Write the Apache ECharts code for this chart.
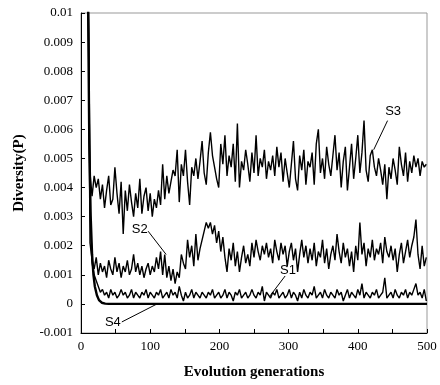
<!DOCTYPE html>
<html>
<head>
<meta charset="utf-8">
<script src="https://cdn.jsdelivr.net/npm/echarts@6/dist/echarts.min.js"></script>
<style>html,body{margin:0;padding:0;background:#fff}#c{width:440px;height:385px}</style>
</head>
<body>
<div id="c"></div>
<script>
// Generations sampled for S1, S2, S3 (every 3rd generation)
var gens = [];
for (var g = 1; g <= 499; g += 3) gens.push(g);

var s3 = [
0.05,0.03,0.02,0.012,0.0045,0.0037,0.0044,0.0040,0.0043,0.0036,
0.0041,0.0033,0.0039,0.0044,0.0034,0.0036,0.0047,0.0038,0.0031,0.0042,
0.0024,0.0039,0.0032,0.0041,0.0035,0.0030,0.0038,0.0033,0.0043,0.0031,
0.0037,0.0040,0.0032,0.0038,0.0030,0.0036,0.0033,0.0039,0.0034,0.0048,
0.0036,0.0044,0.0038,0.0042,0.0046,0.0044,0.0053,0.0035,0.0048,0.0044,
0.0053,0.0042,0.0034,0.0047,0.0044,0.0050,0.0043,0.0049,0.0056,0.0045,
0.0041,0.0052,0.0059,0.0051,0.0047,0.0043,0.0040,0.0055,0.0048,0.0058,
0.0044,0.0051,0.0047,0.0055,0.0042,0.0062,0.0040,0.0049,0.0046,0.0053,
0.0048,0.0042,0.0052,0.0045,0.0058,0.0044,0.0050,0.0047,0.0053,0.0043,
0.0049,0.0046,0.0051,0.0044,0.0054,0.0047,0.0052,0.0042,0.0050,0.0045,
0.0040,0.0048,0.0056,0.0043,0.0039,0.0051,0.0046,0.0053,0.0041,0.0049,
0.0047,0.0052,0.0041,0.0055,0.0060,0.0045,0.0050,0.0043,0.0054,0.0048,
0.0044,0.0051,0.0058,0.0046,0.0052,0.0040,0.0049,0.0054,0.0039,0.0047,
0.0055,0.0043,0.0050,0.0058,0.0045,0.0052,0.0063,0.0046,0.0042,0.0051,
0.0053,0.0047,0.0044,0.0050,0.0046,0.0041,0.0048,0.0036,0.0047,0.0043,
0.0050,0.0046,0.0041,0.0054,0.0048,0.0044,0.0052,0.0042,0.0049,0.0045,
0.0051,0.0047,0.0050,0.0044,0.0049,0.0047,0.0048
];

var s2 = [
0.05,0.03,0.02,0.012,0.0021,0.0015,0.0012,0.0016,0.0010,0.0014,
0.0011,0.0013,0.0009,0.0015,0.0012,0.0010,0.0016,0.0011,0.0014,0.0009,
0.0013,0.0011,0.0015,0.0010,0.0012,0.0017,0.0011,0.0014,0.0010,0.0013,
0.0009,0.0012,0.0014,0.0010,0.0013,0.0011,0.0016,0.0012,0.0018,0.0010,
0.0017,0.0009,0.0013,0.0008,0.0012,0.0007,0.0011,0.0009,0.0017,0.0014,
0.0012,0.0022,0.0016,0.0020,0.0013,0.0024,0.0015,0.0019,0.0022,0.0025,
0.0028,0.0026,0.0028,0.0024,0.0027,0.0021,0.0025,0.0018,0.0023,0.0016,
0.0011,0.0019,0.0015,0.0021,0.0013,0.0018,0.0011,0.0016,0.0020,0.0014,
0.0017,0.0013,0.0021,0.0016,0.0022,0.0018,0.0015,0.0020,0.0017,0.0021,
0.0016,0.0019,0.0014,0.0022,0.0018,0.0015,0.0021,0.0017,0.0020,0.0013,
0.0018,0.0021,0.0015,0.0019,0.0011,0.0017,0.0022,0.0016,0.0020,0.0014,
0.0019,0.0015,0.0021,0.0013,0.0018,0.0016,0.0022,0.0014,0.0019,0.0012,
0.0017,0.0020,0.0015,0.0024,0.0018,0.0014,0.0021,0.0016,0.0019,0.0013,
0.0018,0.0011,0.0020,0.0015,0.0028,0.0017,0.0021,0.0013,0.0019,0.0016,
0.0022,0.0015,0.0019,0.0017,0.0021,0.0014,0.0023,0.0018,0.0016,0.0020,
0.0015,0.0019,0.0011,0.0017,0.0021,0.0014,0.0018,0.0022,0.0016,0.0020,
0.0023,0.0029,0.0017,0.0012,0.0020,0.0013,0.0016
];

var s1 = [
0.05,0.03,0.02,0.012,0.0035,0.0014,0.0010,0.0008,0.0006,0.0004,
0.0005,0.0003,0.0004,0.0002,0.0005,0.0003,0.0004,0.0002,0.0003,0.0005,
0.0003,0.0004,0.0002,0.0003,0.0005,0.0002,0.0004,0.0003,0.0002,0.0004,
0.0003,0.0005,0.0002,0.0004,0.0003,0.0002,0.0004,0.0003,0.0005,0.0002,
0.0003,0.0004,0.0002,0.0005,0.0003,0.0004,0.0002,0.0006,0.0003,0.0001,
0.0004,0.0002,0.0003,0.0005,0.0002,0.0004,0.0003,0.0002,0.0004,0.0003,
0.0002,0.0004,0.0003,0.0005,0.0002,0.0003,0.0004,0.0002,0.0003,0.0005,
0.0002,0.0004,0.0003,0.0001,0.0004,0.0003,0.0005,0.0002,0.0003,0.0004,
0.0002,0.0003,0.0005,0.0003,0.0002,0.0004,0.0003,0.0006,0.0001,0.0004,
0.0003,0.0002,0.0004,0.0003,0.0005,0.0002,0.0003,0.0004,0.0002,0.0003,
0.0005,0.0002,0.0004,0.0003,0.0001,0.0004,0.0002,0.0005,0.0003,0.0002,
0.0004,0.0003,0.0006,0.0002,0.0003,0.0004,0.0002,0.0005,0.0003,0.0002,
0.0004,0.0003,0.0002,0.0005,0.0003,0.0004,0.0001,0.0003,0.0005,0.0002,
0.0004,0.0003,0.0002,0.0005,0.0003,0.0007,0.0002,0.0004,0.0003,0.0002,
0.0004,0.0003,0.0005,0.0002,0.0003,0.0004,0.0009,0.0002,0.0003,0.0004,
0.0002,0.0005,0.0003,0.0002,0.0004,0.0003,0.0005,0.0002,0.0004,0.0003,
0.0005,0.0007,0.0003,0.0004,0.0002,0.0005,0.0001
];

var s4Gen = [1, 8, 10, 12, 14, 16, 18, 20, 23, 26, 30, 35, 40, 500];
var s4Val = [0.05, 0.02, 0.011, 0.0055, 0.003, 0.0017, 0.001, 0.0006, 0.0003, 0.00013, 0.00004, 0.00001, 0, 0];

var xTicks = [0, 100, 200, 300, 400, 500];
var yTicks = [-0.001, 0, 0.001, 0.002, 0.003, 0.004, 0.005, 0.006, 0.007, 0.008, 0.009, 0.01];

// Annotation labels: label position, leader start, leader end
var annotations = {
  S1: {text: [299, 0.00116], from: [295, 0.00096], to: [272, 0.00024]},
  S2: {text: [85, 0.00257], from: [97, 0.0025], to: [123, 0.0017]},
  S3: {text: [451, 0.0066], from: [443, 0.0063], to: [423, 0.0053]},
  S4: {text: [46, -0.00062], from: [59, -0.00062], to: [110, 0]}
};

function pairs(xs, ys) { return xs.map(function (x, i) { return [x, ys[i]]; }); }

function series(name, data, width) {
  var a = annotations[name];
  return {
    name: name, type: 'line', data: data, showSymbol: false, symbol: 'none',
    lineStyle: {color: '#000', width: width}, itemStyle: {color: '#000'},
    clip: true, animation: false,
    markLine: {
      silent: true, animation: false, symbol: ['none', 'none'],
      lineStyle: {color: '#000', width: 1, type: 'solid'},
      label: {show: false},
      data: [[{coord: a.from}, {coord: a.to}]]
    },
    markPoint: {
      silent: true, animation: false, symbol: 'circle', symbolSize: 1,
      itemStyle: {color: 'rgba(0,0,0,0)'},
      label: {show: true, position: 'inside', formatter: name, color: '#000',
              fontFamily: 'Liberation Sans', fontSize: 13},
      data: [{coord: a.text}]
    }
  };
}

var serif = 'Liberation Serif, Times New Roman, serif';
var chart = echarts.init(document.getElementById('c'), null, {renderer: 'canvas'});
chart.setOption({
  backgroundColor: '#fff',
  animation: false,
  grid: {left: 81, right: 13, top: 13, bottom: 51, show: true, borderColor: '#999', borderWidth: 1},
  xAxis: {
    type: 'value', min: 0, max: 500, interval: 50,
    name: 'Evolution generations', nameLocation: 'middle', nameGap: 32,
    nameTextStyle: {fontFamily: serif, fontWeight: 'bold', fontSize: 15, color: '#000'},
    axisLine: {onZero: false, lineStyle: {color: '#000', width: 1}},
    axisTick: {inside: true, length: 4, lineStyle: {color: '#000'}},
    axisLabel: {
      margin: 7, color: '#000', fontFamily: serif, fontSize: 13,
      formatter: function (v) { return xTicks.indexOf(v) >= 0 ? String(v) : ''; }
    },
    splitLine: {show: false}
  },
  yAxis: {
    type: 'value', min: -0.001, max: 0.01, interval: 0.001,
    name: 'Diversity(P)', nameLocation: 'middle', nameGap: 54,
    nameTextStyle: {fontFamily: serif, fontWeight: 'bold', fontSize: 15, color: '#000'},
    axisLine: {show: true, lineStyle: {color: '#000', width: 1}},
    axisTick: {show: true, inside: true, length: 4, lineStyle: {color: '#000'}},
    axisLabel: {
      margin: 8, color: '#000', fontFamily: serif, fontSize: 13,
      formatter: function (v) {
        var r = Math.round(v * 1000) / 1000;
        for (var i = 0; i < yTicks.length; i++) if (Math.abs(yTicks[i] - r) < 1e-9) return String(yTicks[i]);
        return String(r);
      }
    },
    splitLine: {show: false}
  },
  series: [
    series('S3', pairs(gens, s3), 1.4),
    series('S2', pairs(gens, s2), 1.4),
    series('S1', pairs(gens, s1), 1.4),
    series('S4', pairs(s4Gen, s4Val), 2.4)
  ]
});
</script>
</body>
</html>
